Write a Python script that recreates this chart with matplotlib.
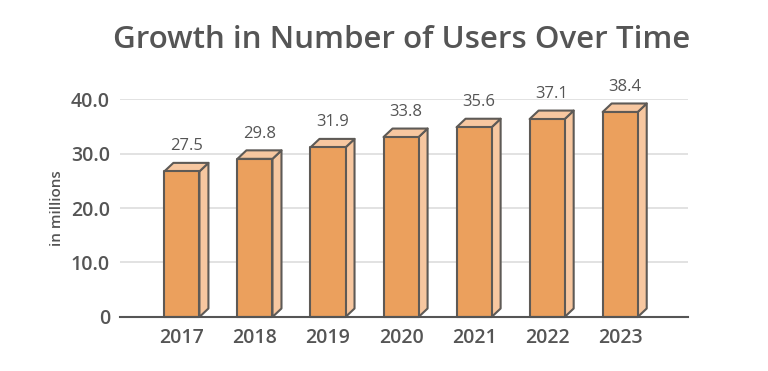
import matplotlib
matplotlib.use("Agg")
import matplotlib.pyplot as plt
from matplotlib.patches import Polygon, Rectangle

plt.rcParams['font.family'] = ['Open Sans', 'DejaVu Sans']

years = ['2017', '2018', '2019', '2020', '2021', '2022', '2023']
users = [27.5, 29.8, 31.9, 33.8, 35.6, 37.1, 38.4]
y_ticks = [0, 10, 20, 30, 40]
y_tick_labels = ['0', '10.0', '20.0', '30.0', '40.0']

front_color = '#EBA05D'
side_color = '#F7C7A0'
edge_color = '#5E5A56'
text_color = '#555555'
grid_color = '#DDDDDD'

fig = plt.figure(figsize=(7.68, 3.71), dpi=100)
ax = fig.add_axes([0.156, 0.1456, 0.74, 0.5875])

ax.set_xlim(-0.85, 6.93)
ax.set_ylim(0, 40)

# depth of the fake 3d bars, in pixels -> data units
fig.canvas.draw()
bbox = ax.get_window_extent()
px_x = (ax.get_xlim()[1] - ax.get_xlim()[0]) / bbox.width
px_y = (ax.get_ylim()[1] - ax.get_ylim()[0]) / bbox.height
dx = 9 * px_x
dy = 8.5 * px_y

width = 0.48
for i, v in enumerate(users):
    x0 = i - width / 2
    x1 = i + width / 2
    h = v - dy / 2  # value sits in the middle of the top face
    side = Polygon([(x1, 0), (x1 + dx, dy), (x1 + dx, h + dy), (x1, h)],
                   closed=True, facecolor=side_color, edgecolor=edge_color,
                   linewidth=1.5, clip_on=False, zorder=3, joinstyle='round')
    top = Polygon([(x0, h), (x0 + dx, h + dy), (x1 + dx, h + dy), (x1, h)],
                  closed=True, facecolor=side_color, edgecolor=edge_color,
                  linewidth=1.5, clip_on=False, zorder=3, joinstyle='round')
    front = Rectangle((x0, 0), width, h, facecolor=front_color,
                      edgecolor=edge_color, linewidth=1.5, clip_on=False,
                      zorder=4, joinstyle='round')
    ax.add_patch(side)
    ax.add_patch(top)
    ax.add_patch(front)
    ax.annotate(f'{v:.1f}', (i + dx / 2, v), xytext=(0, 15),
                textcoords='offset points', ha='center', va='center',
                fontsize=12, color=text_color, fontweight='medium')

ax.set_yticks(y_ticks)
ax.set_yticklabels(y_tick_labels)
ax.set_xticks(range(len(years)))
ax.set_xticklabels(years)
ax.tick_params(axis='both', length=0, labelsize=14, colors=text_color)
ax.tick_params(axis='y', pad=7)
ax.tick_params(axis='x', pad=8)
for lbl in ax.get_xticklabels() + ax.get_yticklabels():
    lbl.set_fontweight('semibold')

ax.yaxis.grid(True, color=grid_color, linewidth=1.2)
ax.set_axisbelow(True)
for s in ['top', 'right', 'left']:
    ax.spines[s].set_visible(False)
ax.spines['bottom'].set_color('#555555')
ax.spines['bottom'].set_linewidth(1.5)
ax.spines['bottom'].set_zorder(5)

ax.set_ylabel('in millions', fontsize=11, color=text_color,
              fontweight='semibold', labelpad=5)

fig.text(0.523, 0.892, 'Growth in Number of Users Over Time', ha='center',
         va='center', fontsize=22.5, fontweight='semibold', color=text_color)

fig.savefig('out.png', dpi=100)
